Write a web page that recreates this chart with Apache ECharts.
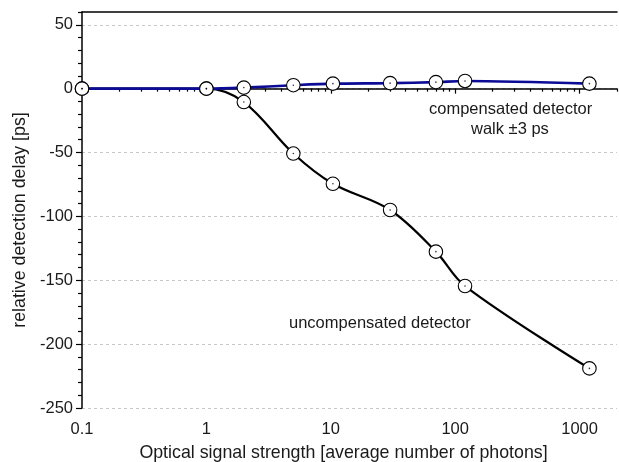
<!DOCTYPE html>
<html>
<head>
<meta charset="utf-8">
<script src="https://cdn.jsdelivr.net/npm/echarts@6/dist/echarts.min.js"></script>
<style>
html,body{margin:0;padding:0;background:#fff;}
#chart{width:619px;height:462px;}
</style>
</head>
<body>
<div id="chart"></div>
<script>
// ---- data ----
var compX = [0.1, 1, 2, 5, 10.4, 30, 70, 120, 1200];
var compY = [0, 0, 0.8, 2.7, 3.9, 4.3, 5.1, 6, 3.9];
var uncompX = [0.1, 1, 2, 5, 10.4, 30, 70, 120, 1200];
var uncompY = [0, 0, -10.5, -50.8, -74.5, -95, -127.6, -154.5, -219];
var xMajorTicks = [0.1, 1, 10, 100, 1000];
var xMinorTicks = [0.2,0.3,0.4,0.5,0.6,0.7,0.8,0.9,2,3,4,5,6,7,8,9,20,30,40,50,60,70,80,90,200,300,400,500,600,700,800,900,2000];
var yMajorTicks = [-250, -200, -150, -100, -50, 0, 50];
var yMinorTicks = [-240,-230,-220,-210,-190,-180,-170,-160,-140,-130,-120,-110,-90,-80,-70,-60,-40,-30,-20,-10,10,20,30,40,60];
var xName = 'Optical signal strength [average number of photons]';
var yName = 'relative detection delay [ps]';
var noteComp1 = 'compensated detector';
var noteComp2 = 'walk \u00b13 ps';
var noteUncomp = 'uncompensated detector';

function pairs(xs, ys){ return xs.map(function(x,i){ return [x, ys[i]]; }); }

var FONT = 'Liberation Sans, Arial, sans-serif';
var chart = echarts.init(document.getElementById('chart'), null, {renderer:'canvas'});
var xBase = {type:'log', logBase:10, min:0.1, max:2000, gridIndex:0};
var yBase = {type:'value', min:-250, max:60, interval:50, gridIndex:0};

chart.setOption({
  animation:false,
  backgroundColor:'#fff',
  grid:{left:82, right:2, top:12, bottom:54, containLabel:false, outerBoundsMode:'none'},
  xAxis:[
    Object.assign({}, xBase, {
      position:'bottom',
      name:xName, nameLocation:'middle', nameGap:36,
      nameTextStyle:{fontFamily:FONT, fontSize:17.8, color:'#1a1a1a', padding:[0,12,0,0]},
      axisLine:{show:true, lineStyle:{color:'#000', width:1.5}},
      axisTick:{show:true, inside:false, length:5, lineStyle:{color:'#000', width:1.2}, customValues:xMajorTicks},
      axisLabel:{show:true, fontFamily:FONT, fontSize:16.5, color:'#1a1a1a', margin:13, customValues:xMajorTicks,
        formatter:function(v){ return String(v); }},
      splitLine:{show:false}, minorTick:{show:false}
    }),
    Object.assign({}, xBase, {
      position:'bottom',
      axisLine:{show:false},
      axisTick:{show:true, inside:false, length:3, lineStyle:{color:'#000', width:1.2}, customValues:xMinorTicks},
      axisLabel:{show:false},
      splitLine:{show:false}
    }),
    Object.assign({}, xBase, {
      position:'top',
      axisLine:{show:true, lineStyle:{color:'#000', width:1.5}},
      axisTick:{show:false}, axisLabel:{show:false}, splitLine:{show:false}
    })
  ],
  yAxis:[
    Object.assign({}, yBase, {
      position:'left',
      name:yName, nameLocation:'middle', nameGap:50,
      nameTextStyle:{fontFamily:FONT, fontSize:17.8, color:'#1a1a1a', padding:[0,20,0,0]},
      axisLine:{show:true, lineStyle:{color:'#000', width:1.5}},
      axisTick:{show:true, inside:false, length:6, lineStyle:{color:'#000', width:1.2}, customValues:yMajorTicks},
      axisLabel:{show:true, fontFamily:FONT, fontSize:16.5, color:'#1a1a1a', margin:9, customValues:yMajorTicks},
      splitLine:{show:true, lineStyle:{color:'#c8c8c8', width:1, type:[3,3]}}
    }),
    Object.assign({}, yBase, {
      position:'left',
      axisLine:{show:false},
      axisTick:{show:true, inside:false, length:4, lineStyle:{color:'#000', width:1.2}, customValues:yMinorTicks},
      axisLabel:{show:false}, splitLine:{show:false}
    })
  ],
  series:[
    {type:'line', name:'uncompensated', xAxisIndex:0, yAxisIndex:0, data:pairs(uncompX, uncompY),
      smooth:0.35, lineStyle:{color:'#000', width:2.2}, symbol:'none', z:2},
    {type:'line', name:'compensated', xAxisIndex:0, yAxisIndex:0, data:pairs(compX, compY),
      smooth:0.3, lineStyle:{color:'#0b0b95', width:2.6}, symbol:'none', z:3},
    {type:'scatter', xAxisIndex:0, yAxisIndex:0, data:pairs(uncompX, uncompY), symbol:'circle', symbolSize:13.5,
      itemStyle:{color:'#fff', borderColor:'#000', borderWidth:1.1, opacity:1}, z:4},
    {type:'scatter', xAxisIndex:0, yAxisIndex:0, data:pairs(compX, compY), symbol:'circle', symbolSize:13.5,
      itemStyle:{color:'#fff', borderColor:'#000', borderWidth:1.1, opacity:1}, z:5},
    {type:'scatter', xAxisIndex:0, yAxisIndex:0, data:pairs(uncompX, uncompY).concat(pairs(compX, compY)),
      symbol:'circle', symbolSize:1.6, itemStyle:{color:'#000'}, z:6}
  ],
  graphic:[
    {type:'text', left:429, top:101, style:{text:noteComp1, font:'16.5px ' + FONT, fill:'#1a1a1a'}},
    {type:'text', left:471, top:121, style:{text:noteComp2, font:'16.5px ' + FONT, fill:'#1a1a1a'}},
    {type:'text', left:289, top:315, style:{text:noteUncomp, font:'16.5px ' + FONT, fill:'#1a1a1a'}}
  ]
});
</script>
</body>
</html>
